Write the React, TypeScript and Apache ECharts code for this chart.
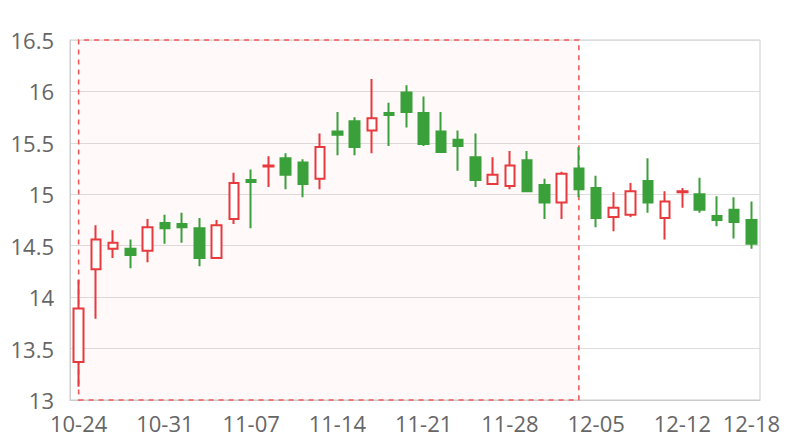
import React, { useEffect, useRef } from "react";
import * as echarts from "echarts";

const dates = [
  "10-24", "10-25", "10-26", "10-27", "10-28",
  "10-31", "11-01", "11-02", "11-03", "11-04",
  "11-07", "11-08", "11-09", "11-10", "11-11",
  "11-14", "11-15", "11-16", "11-17", "11-18",
  "11-21", "11-22", "11-23", "11-24", "11-25",
  "11-28", "11-29", "11-30", "12-01", "12-02",
  "12-05", "12-06", "12-07", "12-08", "12-09",
  "12-12", "12-13", "12-14", "12-15", "12-18",
];

// [open, close, low, high]
const ohlc = [
  [13.37, 13.89, 13.13, 14.17],
  [14.27, 14.56, 13.79, 14.7],
  [14.47, 14.53, 14.38, 14.65],
  [14.47, 14.41, 14.28, 14.56],
  [14.45, 14.68, 14.34, 14.76],
  [14.72, 14.67, 14.52, 14.8],
  [14.71, 14.68, 14.53, 14.82],
  [14.67, 14.38, 14.3, 14.77],
  [14.38, 14.7, 14.37, 14.75],
  [14.76, 15.11, 14.71, 15.21],
  [15.14, 15.12, 14.67, 15.24],
  [15.27, 15.28, 15.07, 15.37],
  [15.35, 15.19, 15.05, 15.4],
  [15.31, 15.1, 14.97, 15.34],
  [15.15, 15.46, 15.05, 15.59],
  [15.61, 15.58, 15.38, 15.8],
  [15.71, 15.46, 15.38, 15.75],
  [15.62, 15.74, 15.4, 16.12],
  [15.79, 15.77, 15.47, 15.89],
  [15.99, 15.8, 15.65, 16.06],
  [15.79, 15.49, 15.47, 15.95],
  [15.61, 15.41, 15.41, 15.8],
  [15.53, 15.47, 15.23, 15.62],
  [15.36, 15.14, 15.07, 15.59],
  [15.1, 15.19, 15.1, 15.36],
  [15.08, 15.28, 15.05, 15.42],
  [15.33, 15.03, 15.02, 15.42],
  [15.09, 14.92, 14.76, 15.15],
  [14.92, 15.2, 14.76, 15.22],
  [15.25, 15.05, 14.97, 15.46],
  [15.06, 14.77, 14.68, 15.18],
  [14.78, 14.87, 14.64, 15.02],
  [14.8, 15.03, 14.78, 15.11],
  [15.13, 14.92, 14.82, 15.35],
  [14.77, 14.93, 14.56, 15.03],
  [15.02, 15.03, 14.87, 15.06],
  [15.0, 14.85, 14.82, 15.16],
  [14.79, 14.75, 14.69, 14.98],
  [14.85, 14.73, 14.57, 14.97],
  [14.75, 14.52, 14.47, 14.93],
];

const highlightStart = "10-24";
const highlightEnd = "12-02";

export default function App() {
  const ref = useRef<HTMLDivElement>(null);
  useEffect(() => {
    document.body.style.margin = "0";
    const chart = echarts.init(ref.current!, null, { renderer: "svg" });
    const font = "'Open Sans', 'Noto Sans', sans-serif";
    chart.setOption({
      animation: false,
      grid: {
        left: 70,
        right: 40,
        top: 40,
        bottom: 40,
        show: true,
        borderColor: "#cccccc",
        borderWidth: 1,
      },
      xAxis: {
        type: "category",
        data: dates,
        boundaryGap: true,
        axisLine: { lineStyle: { color: "#cccccc" } },
        axisTick: { show: false },
        axisLabel: {
          color: "#666666",
          fontSize: 22,
          fontFamily: font,
          margin: 12,
          interval: (i: number) => i % 5 === 0 || i === dates.length - 1,
        },
        splitLine: { show: false },
      },
      yAxis: {
        type: "value",
        min: 13,
        max: 16.5,
        interval: 0.5,
        axisLine: { show: true, lineStyle: { color: "#cccccc" } },
        axisTick: { show: false },
        axisLabel: {
          color: "#666666",
          fontSize: 22,
          fontFamily: font,
          margin: 16,
        },
        splitLine: { lineStyle: { color: "#dddddd" } },
      },
      series: [
        {
          type: "candlestick",
          data: ohlc,
          barWidth: 10,
          itemStyle: {
            color: "#ffffff",
            borderColor: "#e8393d",
            color0: "#3aa03a",
            borderColor0: "#3aa03a",
            borderWidth: 2,
          },
          markArea: {
            silent: true,
            itemStyle: {
              color: "rgba(255, 90, 90, 0.04)",
              borderColor: "#f25a5a",
              borderWidth: 1.6,
              borderType: [5, 5],
            },
            data: [
              [
                { xAxis: highlightStart, yAxis: 13 },
                { xAxis: highlightEnd, yAxis: 16.5 },
              ],
            ],
          },
        },
      ],
    });
    return () => chart.dispose();
  }, []);
  return <div ref={ref} style={{ width: 800, height: 440 }} />;
}
